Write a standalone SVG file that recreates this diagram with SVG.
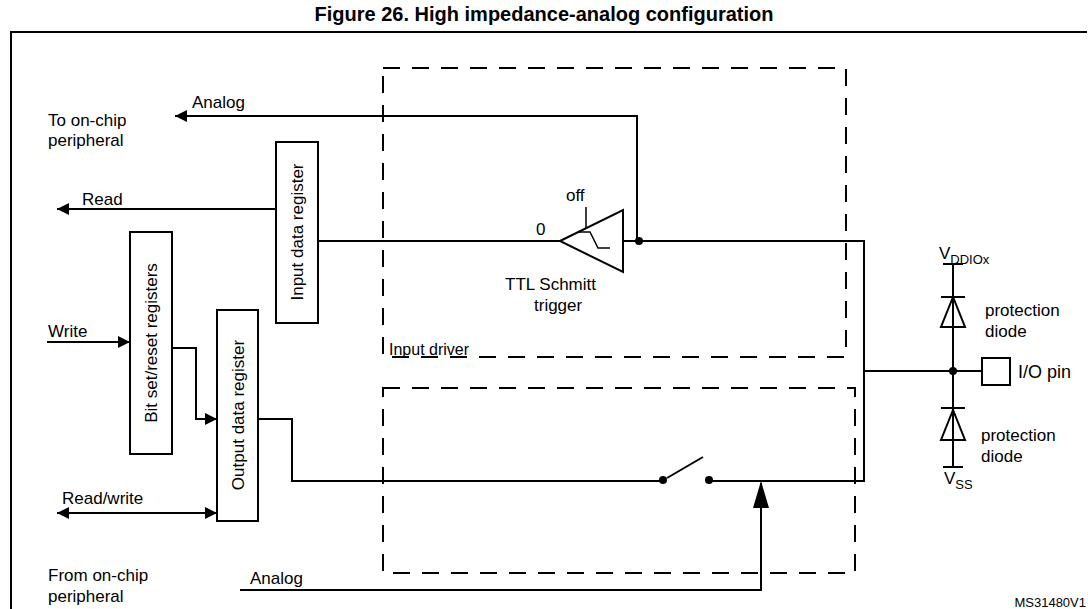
<svg xmlns="http://www.w3.org/2000/svg" width="1088" height="609" viewBox="0 0 1088 609">
<style>
text{font-family:"Liberation Sans",Arial,sans-serif;font-size:17px;fill:#000}
.w{fill:none;stroke:#000;stroke-width:2}
.d{fill:none;stroke:#000;stroke-width:2;stroke-dasharray:17,12}
.b{fill:#fff;stroke:#000;stroke-width:2}
</style>
<defs>
<marker id="ah" viewBox="0 0 12 12" refX="12" refY="6" markerWidth="12" markerHeight="12" markerUnits="userSpaceOnUse" orient="auto-start-reverse"><path d="M0,0L12,6L0,12z" fill="#000"/></marker>
</defs>
<rect width="1088" height="609" fill="#fff"/>
<text x="544" y="21" text-anchor="middle" style="font-weight:bold;font-size:20px">Figure 26. High impedance-analog configuration</text>
<path class="w" d="M11,609V32H1087"/>
<g id="dash">
<rect class="d" x="383" y="68" width="463" height="289"/>
<rect class="d" x="383" y="388" width="472" height="185"/>
<text x="389" y="355" style="font-size:16px">Input driver</text>
</g>
<g id="inreg"><rect class="b" x="276" y="142" width="42" height="181"/><text transform="translate(303,232) rotate(-90)" text-anchor="middle">Input data register</text></g>
<g id="bitreg"><rect class="b" x="130" y="232" width="42" height="222"/><text transform="translate(157,343) rotate(-90)" text-anchor="middle">Bit set/reset registers</text></g>
<g id="outreg"><rect class="b" x="217" y="310" width="41" height="211"/><text transform="translate(244,415) rotate(-90)" text-anchor="middle">Output data register</text></g>
<g id="schmitt">
<path class="b" d="M560,241L623,210V272Z"/>
<path class="w" d="M586,207V228M578,232H590L598,248H610" style="stroke-width:1.5"/>
<text x="566" y="201">off</text>
<text x="536" y="235">0</text>
<text x="505" y="290">TTL Schmitt</text>
<text x="534" y="311">trigger</text>
</g>
<g id="pin">
<rect class="b" x="982" y="358" width="28" height="27"/>
<text x="1018" y="378" style="font-size:18px">I/O pin</text>
</g>
<g id="diodes">
<path class="w" d="M953,264V467M943,264H963M941,297H965M941,408H965M943,467H963"/>
<path class="w" d="M953,297L941,327H965Z"/>
<path class="w" d="M953,410L941,440H965Z"/>
<text x="939" y="259">V<tspan dy="5" font-size="13">DDIOx</tspan></text>
<text x="944" y="484">V<tspan dy="5" font-size="13">SS</tspan></text>
<text x="985" y="316">protection</text><text x="985" y="337">diode</text>
<text x="981" y="441">protection</text><text x="981" y="462">diode</text>
</g>
<g id="connectors">
<path class="w" d="M637,241V116H175" marker-end="url(#ah)"/>
<path class="w" d="M276,209H57" marker-end="url(#ah)"/>
<path class="w" d="M318,241H560M623,241H864V481H709M864,371H982"/>
<path class="w" d="M47,342H130" marker-end="url(#ah)"/>
<path class="w" d="M172,348H196V419H217" marker-end="url(#ah)"/>
<path class="w" d="M258,419H292V481H663M667,478L703,457"/>
<path class="w" d="M57,513H217" marker-start="url(#ah)" marker-end="url(#ah)"/>
<path class="w" d="M240,590H761V483"/>
<path d="M761,481L753,508H769Z" fill="#000"/>
<circle cx="639" cy="241" r="4"/><circle cx="953" cy="371" r="4"/>
<circle cx="663" cy="480" r="4"/><circle cx="709" cy="480" r="4"/>
</g>
<text x="48" y="126">To on-chip</text><text x="48" y="146">peripheral</text>
<text x="192" y="108">Analog</text>
<text x="82" y="205">Read</text>
<text x="48" y="337">Write</text>
<text x="62" y="504">Read/write</text>
<text x="48" y="581">From on-chip</text><text x="48" y="602">peripheral</text>
<text x="250" y="584">Analog</text>
<text x="1086" y="607" text-anchor="end" style="font-size:13px">MS31480V1</text>
</svg>
